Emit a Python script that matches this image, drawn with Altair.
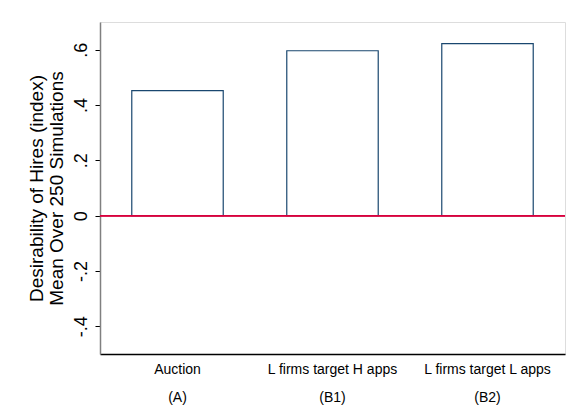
import altair as alt
import pandas as pd

categories = ["Auction|(A)", "L firms target H apps|(B1)", "L firms target L apps|(B2)"]
values = [0.452, 0.596, 0.622]
y_ticks = [-0.4, -0.2, 0.0, 0.2, 0.4, 0.6]

df = pd.DataFrame({"cat": categories, "val": values})

FONT = "Liberation Sans"

x_enc = alt.X(
    "cat:N",
    sort=None,
    title=None,
    scale=alt.Scale(paddingInner=0.41, paddingOuter=0.205),
    axis=alt.Axis(
        labelExpr="split(datum.label, '|')",
        labelAngle=0,
        labelFontSize=14,
        labelLineHeight=28,
        labelColor="black",
        labelPadding=8,
        ticks=False,
        domainColor="black",
        domainWidth=1.5,
        labelFont=FONT,
    ),
)

y_enc = alt.Y(
    "val:Q",
    title=["Desirability of Hires (index)", "Mean Over 250 Simulations"],
    scale=alt.Scale(domain=[-0.5, 0.7], nice=False, zero=False),
    axis=alt.Axis(
        values=y_ticks,
        labelExpr="datum.value == 0 ? '0' : ((datum.value < 0 ? '-' : '') + '.' + toString(round(abs(datum.value) * 10)))",
        labelAngle=270,
        labelAlign="center",
        labelBaseline="bottom",
        labelFontSize=18,
        labelColor="black",
        labelPadding=5,
        tickColor="black",
        tickSize=5,
        tickWidth=1,
        domainColor="#808080",
        domainWidth=1.5,
        grid=False,
        titleFontSize=19,
        titleFontWeight="normal",
        titleColor="black",
        titlePadding=6,
        titleFont=FONT,
        labelFont=FONT,
        titleLineHeight=20,
    ),
)

bars = alt.Chart(df).mark_bar(
    fill="white", stroke="#1a476f", strokeWidth=1.2
).encode(x=x_enc, y=y_enc, y2=alt.datum(0))

zero_line = alt.Chart(df).mark_rule(color="#d8003d", strokeWidth=1.5).encode(
    y=alt.datum(0)
)

chart = (
    alt.layer(bars, zero_line)
    .properties(
        width=465,
        height=332,
        autosize=alt.AutoSizeParams(type="none"),
        padding={"left": 92, "top": 14, "right": 6, "bottom": 55},
        background="white",
    )
    .configure_view(stroke=None)
    .configure(font=FONT)
)

chart.save("out.html", embed_options={"renderer": "svg", "actions": False})
